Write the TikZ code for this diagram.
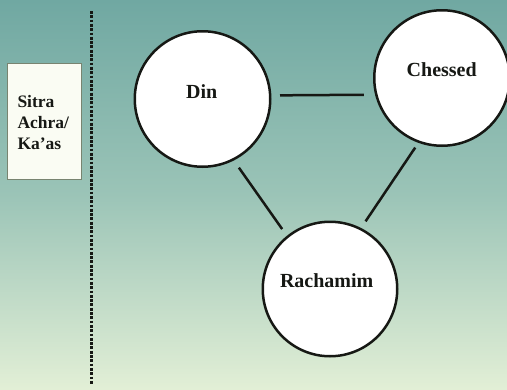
\documentclass[tikz,border=0pt]{standalone}
\usepackage{fontspec}
\setmainfont{Liberation Serif}
\definecolor{bgtop}{RGB}{112,168,162}
\definecolor{bgmid}{RGB}{155,196,183}
\definecolor{bgbot}{RGB}{226,239,214}
\definecolor{boxfill}{RGB}{250,252,243}
\definecolor{boxline}{RGB}{120,132,112}
\definecolor{ink}{RGB}{22,24,20}
\begin{document}
\begin{tikzpicture}[x=1pt,y=-1pt,
  circ/.style={circle,draw=ink,line width=2.5pt,fill=white,inner sep=0pt},
  lbl/.style={font=\fontsize{20}{24}\selectfont\bfseries,text=ink,inner sep=0pt},
  conn/.style={line width=2.5pt,draw=ink},
  sidebox/.style={rectangle,draw=boxline,line width=0.8pt,fill=boxfill,inner sep=0pt}]
\fill[top color=bgtop,bottom color=bgbot,middle color=bgmid] (0,0) rectangle (507,389);
\useasboundingbox (0,0) rectangle (507,389);
% side box
\node[sidebox,minimum width=73.7pt,minimum height=115.7pt] (box) at (44.15,121.15) {};
\node[anchor=west,align=left,inner sep=0pt,font=\fontsize{17.5}{21}\selectfont\bfseries,text=ink] (boxtxt) at (17.3,122.4) {Sitra\\Achra/\\Ka’as};
% dotted divider
\coordinate (dtop) at (91.7,11);
\coordinate (dbot) at (91.7,385);
\draw[line width=3pt,dash pattern=on 2.8pt off 1.5pt,draw=ink] (dtop) -- (dbot);
% circles
\node[circ,minimum size=135.5pt] (din) at (202.5,99) {};
\node[circ,minimum size=135.5pt] (chessed) at (442,78) {};
\node[circ,minimum size=134.5pt] (rachamim) at (330,289) {};
\node[lbl] (dinlbl) at (201.7,91.5) {Din};
\node[lbl] (chessedlbl) at (441.7,70) {Chessed};
\node[lbl] (rachamimlbl) at (326.7,280.5) {Rachamim};
% connectors
\draw[conn,shorten <=8.6pt,shorten >=11.1pt] (din.3.3) -- (chessed.194.3);
\draw[conn,shorten <=8.8pt,shorten >=8.2pt] (din.-63.1) -- (rachamim.129.7);
\draw[conn,shorten <=5.7pt,shorten >=8pt] (chessed.250.2) -- (rachamim.63.6);
\end{tikzpicture}
\end{document}
